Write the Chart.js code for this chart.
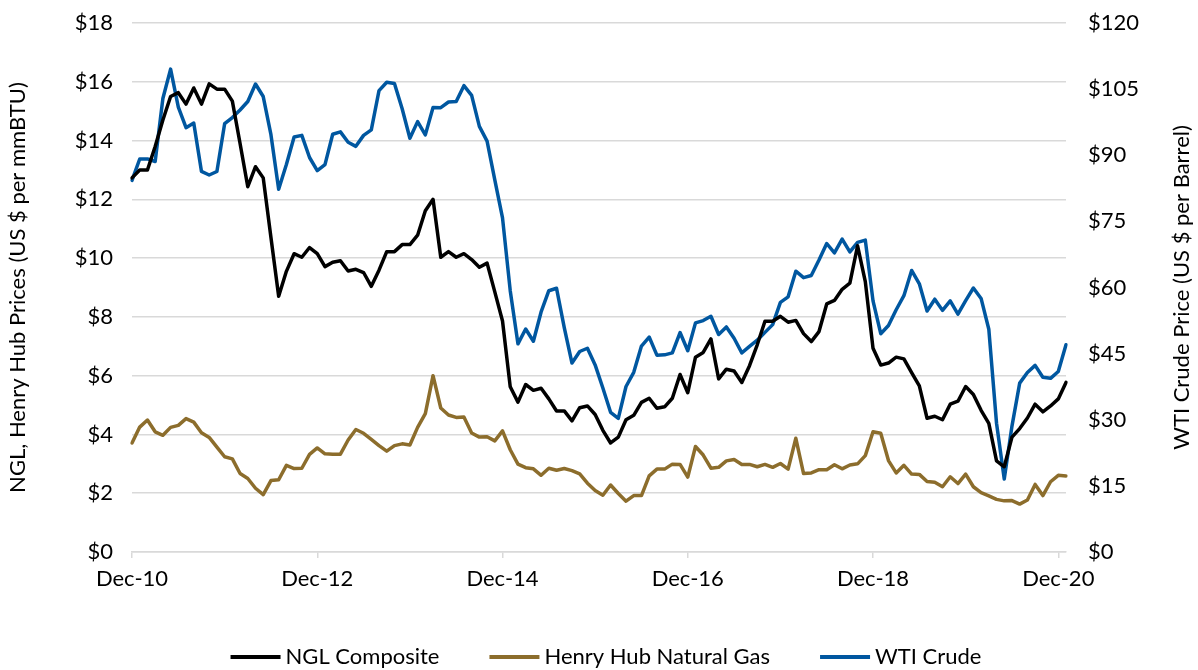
<!DOCTYPE html>
<html>
<head>
<meta charset="utf-8">
<script src="https://cdn.jsdelivr.net/npm/chart.js@4.4.1/dist/chart.umd.min.js"></script>
<style>
  body { margin: 0; background: #fff; }
  #wrap { width: 1198px; height: 670px; }
</style>
</head>
<body>
<div id="wrap"><canvas id="priceChart" width="1198" height="670"></canvas></div>
<script>
// monthly points, first one sits on the "Dec-10" tick, last one a month past "Dec-20"
const tickLabels = ['Dec-10', 'Dec-12', 'Dec-14', 'Dec-16', 'Dec-18', 'Dec-20'];
const monthNames = ['Jan', 'Feb', 'Mar', 'Apr', 'May', 'Jun', 'Jul', 'Aug', 'Sep', 'Oct', 'Nov', 'Dec'];

const nglComposite = [
  12.73, 13.0, 13.0, 13.8, 14.7, 15.5, 15.63, 15.24, 15.79, 15.24, 15.93, 15.75,
  15.75, 15.34, 13.9, 12.43, 13.11, 12.73, 10.7, 8.7, 9.55, 10.15, 10.03, 10.36,
  10.15, 9.71, 9.86, 9.91, 9.56, 9.62, 9.51, 9.04, 9.59, 10.22, 10.22, 10.46,
  10.46, 10.78, 11.61, 12.0, 10.03, 10.22, 10.03, 10.15, 9.95, 9.69, 9.83, 8.85,
  7.86, 5.62, 5.1, 5.7, 5.5, 5.57, 5.21, 4.8, 4.8, 4.46, 4.91, 4.97,
  4.68, 4.14, 3.71, 3.91, 4.5, 4.65, 5.09, 5.23, 4.89, 4.94, 5.23, 6.04,
  5.42, 6.63, 6.79, 7.25, 5.89, 6.22, 6.16, 5.77, 6.34, 7.05, 7.85, 7.85,
  8.02, 7.82, 7.88, 7.43, 7.16, 7.5, 8.44, 8.56, 8.94, 9.15, 10.42, 9.2,
  6.93, 6.36, 6.43, 6.63, 6.57, 6.1, 5.65, 4.55, 4.62, 4.5, 5.03, 5.13,
  5.63, 5.36, 4.82, 4.38, 3.1, 2.9, 3.91, 4.2, 4.56, 5.03, 4.77, 4.97,
  5.21, 5.77
];

const henryHub = [
  3.71, 4.25, 4.49, 4.09, 3.97, 4.24, 4.31, 4.54, 4.42, 4.06, 3.90, 3.57,
  3.24, 3.17, 2.67, 2.50, 2.17, 1.95, 2.43, 2.46, 2.95, 2.84, 2.85, 3.32,
  3.54, 3.34, 3.33, 3.33, 3.81, 4.17, 4.04, 3.83, 3.62, 3.43, 3.62, 3.68,
  3.64, 4.24, 4.71, 6.00, 4.90, 4.66, 4.58, 4.59, 4.05, 3.91, 3.92, 3.78,
  4.12, 3.48, 2.99, 2.87, 2.83, 2.61, 2.85, 2.78, 2.84, 2.77, 2.66, 2.34,
  2.09, 1.93, 2.28, 1.99, 1.73, 1.92, 1.92, 2.59, 2.82, 2.82, 2.99, 2.98,
  2.55, 3.59, 3.30, 2.85, 2.88, 3.10, 3.15, 2.98, 2.98, 2.90, 2.98, 2.88,
  3.01, 2.82, 3.87, 2.67, 2.69, 2.80, 2.80, 2.97, 2.83, 2.96, 3.00, 3.28,
  4.09, 4.04, 3.11, 2.69, 2.95, 2.65, 2.64, 2.40, 2.37, 2.22, 2.56, 2.33,
  2.65, 2.22, 2.02, 1.91, 1.79, 1.74, 1.75, 1.63, 1.77, 2.30, 1.92, 2.39,
  2.61, 2.59
];

const wtiCrude = [
  84.31, 89.15, 89.17, 88.58, 102.86, 109.53, 100.90, 96.26, 97.30, 86.33, 85.52, 86.32,
  97.16, 98.56, 100.27, 102.20, 106.16, 103.32, 94.66, 82.30, 87.90, 94.13, 94.51, 89.49,
  86.53, 87.86, 94.76, 95.31, 92.94, 92.02, 94.51, 95.77, 104.67, 106.57, 106.29, 100.54,
  93.86, 97.63, 94.62, 100.82, 100.80, 102.07, 102.18, 105.79, 103.59, 96.54, 93.21, 84.40,
  75.79, 59.29, 47.22, 50.58, 47.82, 54.45, 59.27, 59.82, 50.90, 42.87, 45.48, 46.22,
  42.44, 37.19, 31.68, 30.32, 37.55, 40.75, 46.71, 48.76, 44.65, 44.72, 45.18, 49.78,
  45.66, 51.97, 52.50, 53.47, 49.33, 51.06, 48.48, 45.18, 46.63, 48.04, 49.82, 51.58,
  56.64, 57.88, 63.70, 62.23, 62.73, 66.25, 69.98, 67.87, 70.98, 68.06, 70.23, 70.75,
  56.96, 49.52, 51.38, 54.95, 58.15, 63.86, 60.83, 54.66, 57.35, 54.81, 56.95, 53.96,
  57.03, 59.88, 57.52, 50.54, 29.21, 16.55, 28.56, 38.31, 40.71, 42.34, 39.63, 39.40,
  40.94, 47.02
];

const leftTitle = 'NGL, Henry Hub Prices (US $ per mmBTU)';
const rightTitle = 'WTI Crude Price (US $ per Barrel)';

// month labels: index 0 = Dec-10
const months = nglComposite.map((v, i) => {
  const m = (11 + i) % 12;
  const yr = 10 + Math.floor((11 + i) / 12);
  return monthNames[m] + '-' + yr;
});

const GRID = '#d9d9d9';
const FONT = 'Lato, "Open Sans", sans-serif';
const FSIZE = 22;

// axis titles (both read bottom-to-top) and the legend under the chart
const extraText = {
  id: 'extraText',
  afterDraw(chart) {
    const ctx = chart.ctx;
    const a = chart.chartArea;
    const midY = (a.top + a.bottom) / 2;
    ctx.save();
    ctx.font = FSIZE + 'px ' + FONT;
    ctx.fillStyle = '#000';
    ctx.textAlign = 'center';
    ctx.textBaseline = 'middle';

    ctx.save();
    ctx.translate(18, midY);
    ctx.rotate(-Math.PI / 2);
    ctx.fillText(leftTitle, 0, 0);
    ctx.restore();

    ctx.save();
    ctx.translate(1182, midY);
    ctx.rotate(-Math.PI / 2);
    ctx.fillText(rightTitle, 0, 0);
    ctx.restore();

    // legend
    const sample = 50, gap = 5, between = 50, ly = 657;
    const items = chart.data.datasets.map(ds => ({
      text: ds.label, color: ds.borderColor, w: ctx.measureText(ds.label).width
    }));
    let total = items.reduce((s, it) => s + sample + gap + it.w, 0) + between * (items.length - 1);
    let x = 606 - total / 2;
    ctx.textAlign = 'left';
    items.forEach(it => {
      ctx.strokeStyle = it.color;
      ctx.lineWidth = 4;
      ctx.beginPath();
      ctx.moveTo(x, ly);
      ctx.lineTo(x + sample, ly);
      ctx.stroke();
      ctx.fillText(it.text, x + sample + gap, ly);
      x += sample + gap + it.w + between;
    });
    ctx.restore();
  }
};

// fixed axis boxes so the plot lands at 132..1066 x 23..552
const fixVertical = s => { s.width = 132; s.paddingTop = 0; s.paddingBottom = 0; };

const lineStyle = { pointRadius: 0, borderWidth: 3.5, tension: 0, borderJoinStyle: 'round', borderCapStyle: 'round' };

new Chart(document.getElementById('priceChart'), {
  type: 'line',
  data: {
    labels: months,
    datasets: [
      Object.assign({ label: 'NGL Composite', data: nglComposite, borderColor: '#000000', yAxisID: 'y' }, lineStyle),
      Object.assign({ label: 'Henry Hub Natural Gas', data: henryHub, borderColor: '#8c6d2c', yAxisID: 'y' }, lineStyle),
      Object.assign({ label: 'WTI Crude', data: wtiCrude, borderColor: '#0057a0', yAxisID: 'y1' }, lineStyle)
    ]
  },
  options: {
    responsive: false,
    animation: false,
    layout: { padding: { top: 23, bottom: 0, left: 0, right: 0 } },
    plugins: { legend: { display: false }, tooltip: { enabled: false } },
    scales: {
      x: {
        afterFit: s => { s.height = 118; s.paddingLeft = 0; s.paddingRight = 0; },
        grid: {
          drawOnChartArea: false,
          tickLength: 6,
          lineWidth: 1.5,
          color: c => (c.index % 24 === 0 ? GRID : 'rgba(0,0,0,0)')
        },
        border: { display: true, color: GRID, width: 1.5 },
        ticks: {
          autoSkip: false,
          maxRotation: 0,
          padding: 8,
          color: '#000',
          font: { family: FONT, size: FSIZE },
          callback: (v, i) => (i % 24 === 0 ? tickLabels[i / 24] : '')
        }
      },
      y: {
        position: 'left',
        min: 0, max: 18,
        afterFit: fixVertical,
        grid: { color: GRID, lineWidth: 1.5, drawTicks: false },
        border: { display: false },
        ticks: {
          stepSize: 2,
          padding: 19,
          color: '#000',
          font: { family: FONT, size: FSIZE },
          callback: v => '$' + v
        }
      },
      y1: {
        position: 'right',
        min: 0, max: 120,
        afterFit: fixVertical,
        grid: { display: false, drawTicks: false },
        border: { display: false },
        ticks: {
          stepSize: 15,
          padding: 22,
          color: '#000',
          font: { family: FONT, size: FSIZE },
          callback: v => '$' + v
        }
      }
    }
  },
  plugins: [extraText]
});
</script>
</body>
</html>
